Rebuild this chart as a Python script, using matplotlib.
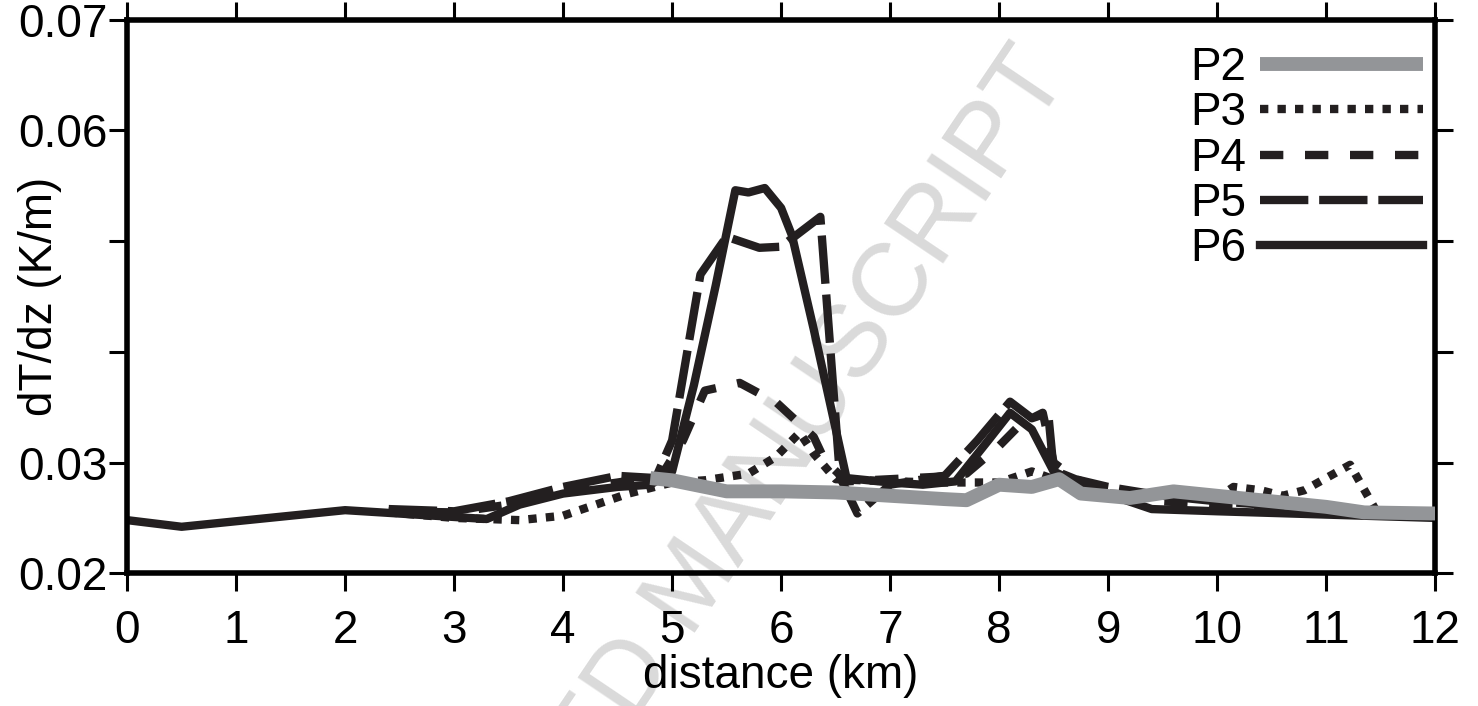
import numpy as np
import matplotlib
matplotlib.use('Agg')
from matplotlib import pyplot as plt

plt.rcParams['font.family'] = ['Liberation Sans', 'DejaVu Sans']

# P2 (grey, thick)
x2 = [4.8, 5.0, 5.5, 6.0, 6.5, 7.0, 7.5, 7.7, 8.0, 8.3, 8.55, 8.75, 9.2, 9.6, 10.0, 10.5, 11.0, 11.35, 12.0]
y2 = [0.0286, 0.0284, 0.0274, 0.0274, 0.0273, 0.0270, 0.0267, 0.0266, 0.0280, 0.0278, 0.0285, 0.0272, 0.0268, 0.0274, 0.0270, 0.0265, 0.0260, 0.0255, 0.0254]

# P3 (dotted)
x3 = [2.4, 3.0, 3.6, 4.0, 4.3, 4.6, 5.0, 5.3, 5.7, 5.95, 6.17, 6.3, 6.5, 7.0, 7.5, 8.0, 8.3, 8.5, 9.0, 9.5, 10.0, 10.15, 10.4, 10.6, 10.8, 11.0, 11.22, 11.3, 11.45]
y3 = [0.0255, 0.0250, 0.0248, 0.0252, 0.0262, 0.0272, 0.0282, 0.0284, 0.0290, 0.0305, 0.0327, 0.0308, 0.0285, 0.0283, 0.0282, 0.0282, 0.0292, 0.0285, 0.0272, 0.0270, 0.0268, 0.0278, 0.0275, 0.0270, 0.0275, 0.0286, 0.0298, 0.0284, 0.0258]

# P4 (short dash)
x4 = [2.4, 3.0, 3.5, 4.0, 4.5, 4.9, 5.1, 5.3, 5.62, 5.96, 6.3, 6.4, 6.6, 7.0, 7.4, 7.7, 8.0, 8.2, 8.4, 8.5, 8.7, 9.0, 9.5, 10.0, 11.0, 12.0]
y4 = [0.0256, 0.0255, 0.0262, 0.0275, 0.0282, 0.0288, 0.0320, 0.0365, 0.0372, 0.0354, 0.0323, 0.0302, 0.0283, 0.0285, 0.0287, 0.0290, 0.0315, 0.0335, 0.0345, 0.0300, 0.0285, 0.0275, 0.0265, 0.0262, 0.0258, 0.0252]

# P5 (long dash)
x5 = [2.4, 3.0, 3.5, 4.0, 4.5, 4.85, 5.0, 5.26, 5.5, 5.8, 6.0, 6.36, 6.54, 6.7, 7.0, 7.5, 7.8, 8.1, 8.3, 8.45, 8.5, 8.7, 9.0, 9.5, 10.0, 11.0, 12.0]
y5 = [0.0258, 0.0256, 0.0265, 0.0278, 0.0288, 0.0286, 0.0320, 0.0470, 0.0504, 0.0494, 0.0495, 0.0522, 0.0287, 0.0254, 0.0280, 0.0288, 0.0320, 0.0355, 0.0340, 0.0345, 0.0293, 0.0285, 0.0278, 0.0270, 0.0265, 0.0258, 0.0252]

# P6 (solid)
x6 = [0.0, 0.5, 2.0, 3.3, 3.6, 4.0, 4.5, 4.8, 5.0, 5.2, 5.4, 5.58, 5.7, 5.85, 6.0, 6.1, 6.3, 6.6, 7.0, 7.3, 7.6, 7.9, 8.1, 8.3, 8.5, 8.8, 9.4, 10.0, 11.0, 12.0]
y6 = [0.0248, 0.0242, 0.0257, 0.0249, 0.0262, 0.0272, 0.0278, 0.0280, 0.0292, 0.0370, 0.0460, 0.0546, 0.0544, 0.0548, 0.0530, 0.0505, 0.0420, 0.0286, 0.0282, 0.0280, 0.0283, 0.0320, 0.0345, 0.0330, 0.0292, 0.0278, 0.0258, 0.0256, 0.0253, 0.0250]

fs = 33

fig = plt.figure(figsize=(14.78, 7.06), dpi=100)
ax = fig.add_axes([0.086, 0.188, 0.885, 0.784])
ax.set_facecolor('none')

# faint watermark behind the plot
fig.text(0.47, 0.17, 'ACCEPTED MANUSCRIPT', fontsize=74, color='#dadada',
         rotation=56, ha='center', va='center', zorder=-5)

lw = 6
ax.plot(x3, y3, color='#231f20', lw=lw, dashes=(1, 1.1), dash_capstyle='butt', label='P3')
ax.plot(x4, y4, color='#231f20', lw=lw, dashes=(2.8, 2.6), dash_capstyle='butt', label='P4')
ax.plot(x5, y5, color='#231f20', lw=lw, dashes=(5.8, 1.3), dash_capstyle='butt', label='P5')
ax.plot(x6, y6, color='#231f20', lw=lw, label='P6')
ax.plot(x2, y2, color='#939598', lw=10, solid_capstyle='butt', label='P2', zorder=5)

h, l = ax.get_legend_handles_labels()
order = [4, 0, 1, 2, 3]
leg = ax.legend([h[i] for i in order], [l[i] for i in order], loc='upper right',
                frameon=False, fontsize=fs, markerfirst=False, handlelength=3.55,
                handletextpad=0.3, labelspacing=0.03, borderpad=0.27,
                borderaxespad=0, bbox_to_anchor=(1.0, 0.975))

ax.set_xlim(0, 12)
ax.set_ylim(0.02, 0.07)
ax.set_xticks(range(13))
ax.set_yticks([0.02, 0.03, 0.04, 0.05, 0.06, 0.07])
ax.set_yticklabels(['0.02', '0.03', '', '', '0.06', '0.07'])
ax.tick_params(axis='both', which='both', direction='out', length=13, width=2.2,
               labelsize=fs, top=True, right=True)
ax.tick_params(axis='x', pad=13)
ax.tick_params(axis='y', pad=1)
for s in ax.spines.values():
    s.set_linewidth(4)
ax.set_xlabel('distance (km)', fontsize=fs)
ax.set_ylabel('dT/dz (K/m)', fontsize=fs)
ax.xaxis.set_label_coords(0.5, -0.145)
ax.yaxis.set_label_coords(-0.05, 0.5)

fig.savefig('out.png', dpi=100)
